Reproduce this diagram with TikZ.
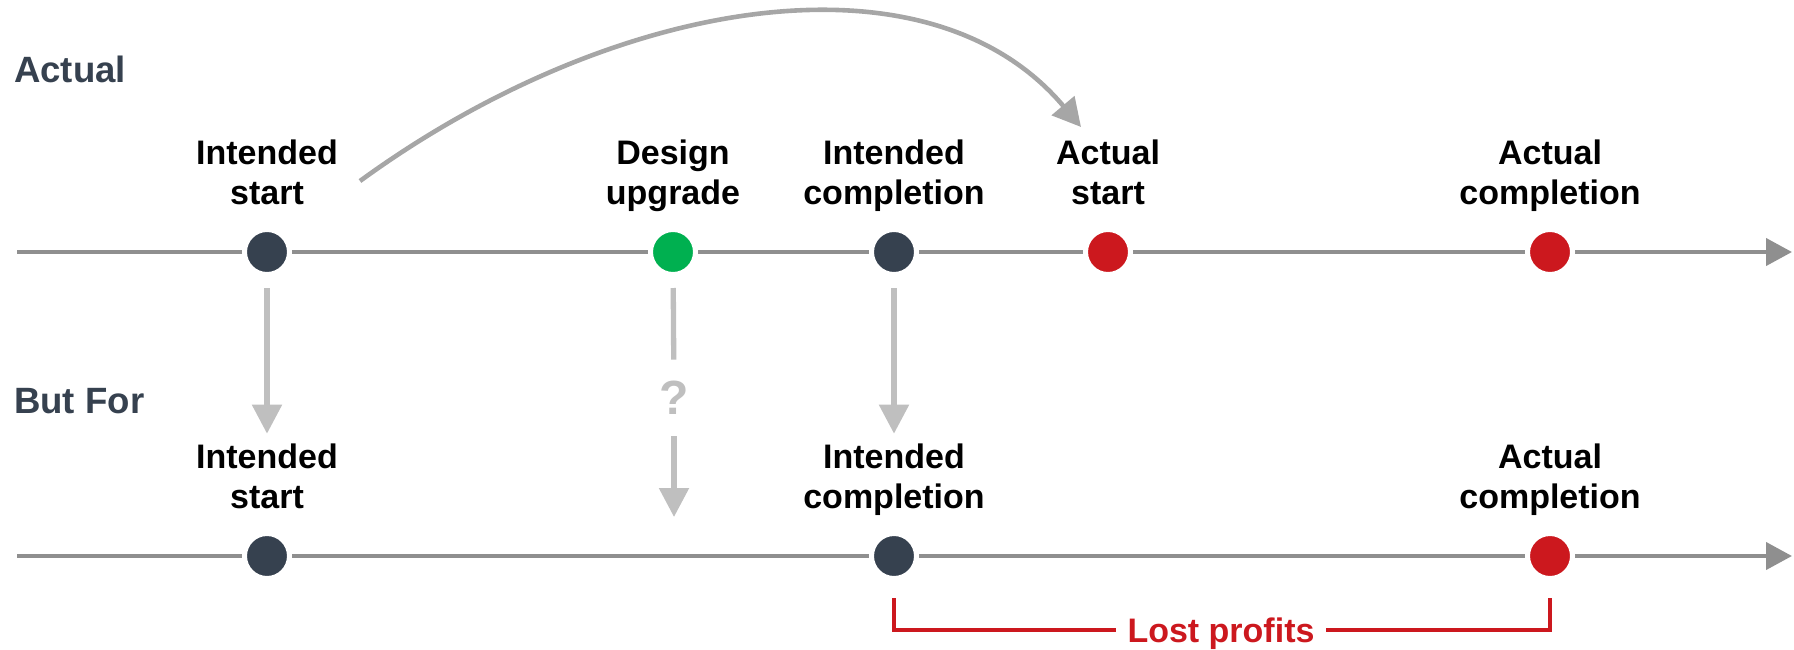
\documentclass[tikz,border=0pt]{standalone}
\usepackage{fontspec}
\setmainfont{Liberation Sans}
\usetikzlibrary{arrows.meta}
\definecolor{slate}{HTML}{36414F}
\definecolor{axisgray}{HTML}{8F8F8F}
\definecolor{linkgray}{HTML}{BFBFBF}
\definecolor{curvegray}{HTML}{A6A6A6}
\definecolor{mgreen}{HTML}{00B050}
\definecolor{mred}{HTML}{CC181E}

\begin{document}
\begin{tikzpicture}[x=1pt,y=-1pt,
  axis/.style={draw=axisgray,line width=4.2pt,-{Triangle[length=26pt,width=27pt]}},
  event/.style={circle,minimum size=45pt,inner sep=0pt,draw=white,line width=5pt,fill=#1},
  lbl/.style={font=\bfseries\fontsize{34}{40}\selectfont,align=center,anchor=base,inner sep=0pt},
  rowname/.style={font=\bfseries\fontsize{36.6}{44}\selectfont,text=slate,anchor=base west,inner sep=0pt},
  drop/.style={draw=linkgray,line width=5.3pt,-{Triangle[length=29pt,width=29pt]}},
  stub/.style={draw=linkgray,line width=5.3pt},
  delay/.style={draw=curvegray,line width=4.6pt,-{Triangle[length=28pt,width=29pt]}},
  lost/.style={draw=mred,line width=3.3pt}
]
\useasboundingbox (0,0) rectangle (1794,649);

% row titles
\node[rowname] (tact) at (14,82) {Actual};
\node[rowname] (tbut) at (14,413) {But For};

% timelines
\coordinate (s1) at (17,252);
\coordinate (e1) at (1792,252);
\coordinate (s2) at (17,556);
\coordinate (e2) at (1792,556);
\draw[axis] (s1) -- (e1);
\draw[axis] (s2) -- (e2);

% actual events
\node[event=slate] (a1) at (267,252) {};
\node[event=mgreen] (a2) at (673,252) {};
\node[event=slate] (a3) at (894,252) {};
\node[event=mred] (a4) at (1108,252) {};
\node[event=mred] (a5) at (1550,252) {};

% labels sit on the baseline of their second line
\node[lbl] (a1l) at (267,204) {Intended\\start};
\node[lbl] (a2l) at (673,204) {Design\\upgrade};
\node[lbl] (a3l) at (894,204) {Intended\\completion};
\node[lbl] (a4l) at (1108,204) {Actual\\start};
\node[lbl] (a5l) at (1550,204) {Actual\\completion};

% but-for events
\node[event=slate] (b1) at (267,556) {};
\node[event=slate] (b2) at (894,556) {};
\node[event=mred] (b3) at (1550,556) {};

\node[lbl] (b1l) at (267,508) {Intended\\start};
\node[lbl] (b2l) at (894,508) {Intended\\completion};
\node[lbl] (b3l) at (1550,508) {Actual\\completion};

% delayed start
\coordinate (cs) at (360,181);
\coordinate (ce) at (1081,127);
\draw[delay] (cs) .. controls (611,-2) and (927,-56) .. (ce);

% carried-over milestones
\draw[drop,shorten <=11pt,shorten >=9.5pt] (a1) -- (b1l);
\draw[drop,shorten <=11pt,shorten >=9.5pt] (a3) -- (b2l);

% uncertain effect of the upgrade
\node[font=\bfseries\fontsize{48}{52}\selectfont,text=linkgray,inner sep=0pt] (q) at (674,397.5) {?};
\coordinate (qend) at (674,517);
\draw[stub,shorten <=11pt,shorten >=21pt] (a2) -- (q);
\draw[drop,shorten <=22pt] (q) -- (qend);

% lost profits bracket
\node[font=\bfseries\fontsize{34}{40}\selectfont,text=mred,inner ysep=0pt,inner xsep=11pt,
      text height=24pt,text depth=0pt] (lp) at (1221,630) {Lost profits};
\draw[lost] ([yshift=-17pt]b2.south) |- (lp.west);
\draw[lost] ([yshift=-17pt]b3.south) |- (lp.east);
\end{tikzpicture}
\end{document}
